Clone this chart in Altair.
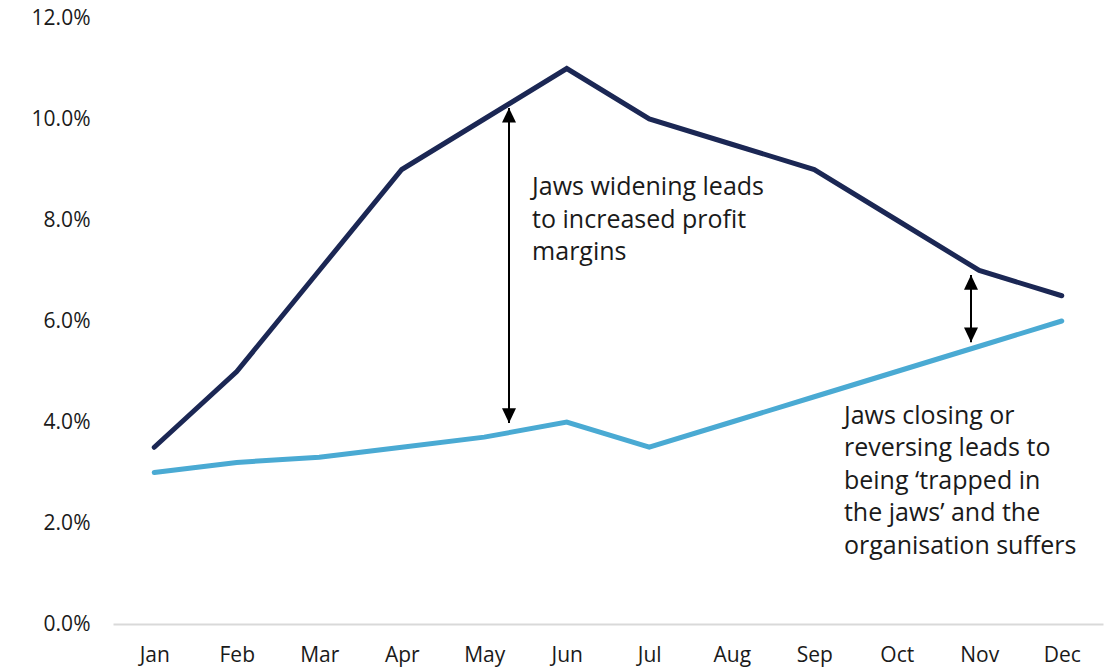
import altair as alt
import pandas as pd

months = ["Jan", "Feb", "Mar", "Apr", "May", "Jun", "Jul", "Aug", "Sep", "Oct", "Nov", "Dec"]
series_a = [3.5, 5.0, 7.0, 9.0, 10.0, 11.0, 10.0, 9.5, 9.0, 8.0, 7.0, 6.5]
series_b = [3.0, 3.2, 3.3, 3.5, 3.7, 4.0, 3.5, 4.0, 4.5, 5.0, 5.5, 6.0]

arrow_x = [4.30, 9.90]
arrow_top = [10.22, 6.91]
arrow_bottom = [3.98, 5.58]

notes = ["Jaws widening leads\nto increased profit\nmargins",
         "Jaws closing or\nreversing leads to\nbeing \u2018trapped in\nthe jaws\u2019 and the\norganisation suffers"]
note_x = [4.58, 8.36]
note_y = [8.89, 4.36]

FONT = "Open Sans"
DARK = "#1b2754"
LIGHT = "#4aaad3"

df = pd.DataFrame({
    "i": list(range(12)) * 2,
    "v": series_a + series_b,
    "s": ["A"] * 12 + ["B"] * 12,
})
arrows = pd.DataFrame({"x": arrow_x, "y1": arrow_top, "y2": arrow_bottom})
tops = pd.DataFrame({"x": arrow_x, "y": arrow_top})
bottoms = pd.DataFrame({"x": arrow_x, "y": arrow_bottom})
notes_df = pd.DataFrame({"t": notes, "x": note_x, "y": note_y})

label_expr = "[" + ",".join(f"'{m}'" for m in months) + "][datum.value]"

xs = alt.Scale(domain=[-0.5, 11.5], nice=False, zero=False)
ys = alt.Scale(domain=[0, 12], nice=False)

lines = alt.Chart(df).mark_line(strokeWidth=5, strokeCap="round", strokeJoin="miter").encode(
    x=alt.X("i:Q", scale=xs, axis=alt.Axis(
        values=list(range(12)), labelExpr=label_expr, title=None, grid=False,
        ticks=False, domain=True, domainColor="#d9d9d9", domainWidth=2,
        labelFontSize=21, labelFont=FONT, labelColor="#1a1a1a", labelPadding=20)),
    y=alt.Y("v:Q", scale=ys, axis=alt.Axis(
        values=[0, 2, 4, 6, 8, 10, 12], labelExpr="format(datum.value, '.1f') + '%'",
        title=None, grid=False, ticks=False, domain=False,
        labelFontSize=21, labelFont=FONT, labelColor="#1a1a1a", labelPadding=23)),
    color=alt.Color("s:N", scale=alt.Scale(domain=["A", "B"], range=[DARK, LIGHT]), legend=None),
)

rules = alt.Chart(arrows).mark_rule(color="black", strokeWidth=2).encode(
    x="x:Q", y="y1:Q", y2="y2:Q")

head_up = alt.Chart(tops).mark_point(
    shape="M0,0L-1,2.1L1,2.1Z", filled=True, color="black", size=196, opacity=1
).encode(x="x:Q", y="y:Q")

head_down = alt.Chart(bottoms).mark_point(
    shape="M0,0L-1,-2.1L1,-2.1Z", filled=True, color="black", size=196, opacity=1
).encode(x="x:Q", y="y:Q")

text = alt.Chart(notes_df).mark_text(align="left", baseline="top", fontSize=25, lineBreak="\n",
                                       font=FONT, lineHeight=32.5, color="#1a1a1a").encode(
    x="x:Q", y="y:Q", text="t:N")

chart = alt.layer(lines, rules, head_up, head_down, text).properties(
    width=990, height=606, padding={"left": 113, "top": 18, "right": 11, "bottom": 46},
    autosize=alt.AutoSizeParams(type="none"),
).configure_view(stroke=None)

chart.save("out.html", embed_options={"renderer": "svg", "actions": False})
